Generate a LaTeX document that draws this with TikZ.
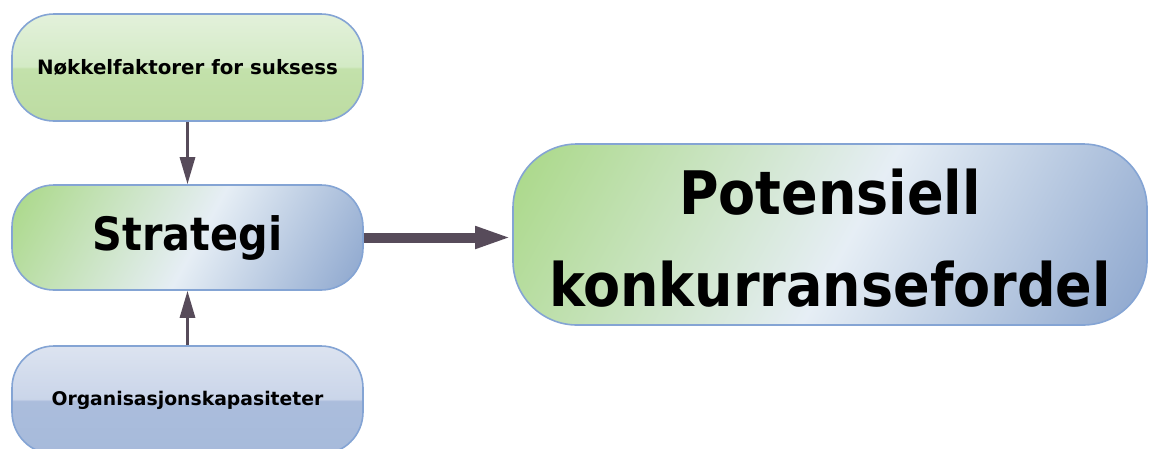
\documentclass[tikz,border=0pt]{standalone}
\usepackage{fontspec}
\setmainfont{DejaVu Sans}
\newfontfamily\heavyfont{DejaVu Sans Condensed}
\usetikzlibrary{arrows.meta}
\definecolor{bordercol}{HTML}{84A4D4}
\definecolor{arrowcol}{HTML}{574B5A}
\definecolor{gtop}{HTML}{E3F1DB}
\definecolor{gmidA}{HTML}{D3EAC5}
\definecolor{gmidB}{HTML}{C3E1AB}
\definecolor{gbot}{HTML}{BDDCA2}
\definecolor{btop}{HTML}{DCE3F0}
\definecolor{bmidA}{HTML}{CAD5E9}
\definecolor{bmidB}{HTML}{ABBDDC}
\definecolor{bbot}{HTML}{A6BADB}
\definecolor{dgreen}{HTML}{A9D886}
\definecolor{dlight}{HTML}{E6EEF5}
\definecolor{dblue}{HTML}{86A1CB}
\pgfdeclareverticalshading{greengloss}{100bp}{color(0bp)=(gbot); color(25bp)=(gbot); color(49.5bp)=(gmidB); color(50.5bp)=(gmidA); color(75bp)=(gtop); color(100bp)=(gtop)}
\pgfdeclareverticalshading{bluegloss}{100bp}{color(0bp)=(bbot); color(25bp)=(bbot); color(49.5bp)=(bmidB); color(50.5bp)=(bmidA); color(75bp)=(btop); color(100bp)=(btop)}
\pgfdeclarehorizontalshading{gwb}{100bp}{color(0bp)=(dgreen); color(16bp)=(dgreen); color(52bp)=(dlight); color(86bp)=(dblue); color(100bp)=(dblue)}
\tikzset{
  pill/.style={draw=bordercol, line width=1.6pt, rounded corners=#1, inner sep=0pt, align=center},
  pill/.default=42pt,
  greenbox/.style={pill, shading=greengloss},
  bluebox/.style={pill, shading=bluegloss},
  diagbox/.style={pill=#1, shading=gwb, shading angle=-29},
  diagbox/.default=42pt,
  smalltext/.style={font=\fontsize{19.8}{24}\bfseries\selectfont},
  vlink/.style={draw=arrowcol, line width=3pt, -{Triangle[length=27pt, width=15pt]}},
  hlink/.style={draw=arrowcol, line width=10pt, -{Triangle[length=37pt, width=20pt]}}
}
\begin{document}
\begin{tikzpicture}[x=1pt, y=-1pt]
\useasboundingbox (0,0) rectangle (1149,448);
\node[greenbox, minimum width=351pt, minimum height=107pt, smalltext] (kf) at (187.5,67.5) {\raisebox{-2pt}{Nøkkelfaktorer for suksess}};
\node[diagbox, minimum width=351pt, minimum height=105pt, font=\fontsize{46}{54}\heavyfont\bfseries] (st) at (187.5,237.5) {Strategi};
\node[diagbox=64pt, minimum width=634pt, minimum height=181pt, font=\fontsize{60}{90}\heavyfont\bfseries] (pk) at (830,234.5) {\raisebox{-14pt}[0pt][0pt]{\begin{tabular}{@{}c@{}}Potensiell\\[2pt]konkurransefordel\end{tabular}}};
\node[bluebox, minimum width=351pt, minimum height=108pt, font=\fontsize{18.8}{24}\bfseries\selectfont] (ok) at (187.5,400) {Organisasjonskapasiteter};
\draw[vlink] (kf) -- (st);
\draw[vlink] (ok) -- (st);
\draw[hlink] (st.east) -- (st.east -| pk.west);
\end{tikzpicture}
\end{document}
